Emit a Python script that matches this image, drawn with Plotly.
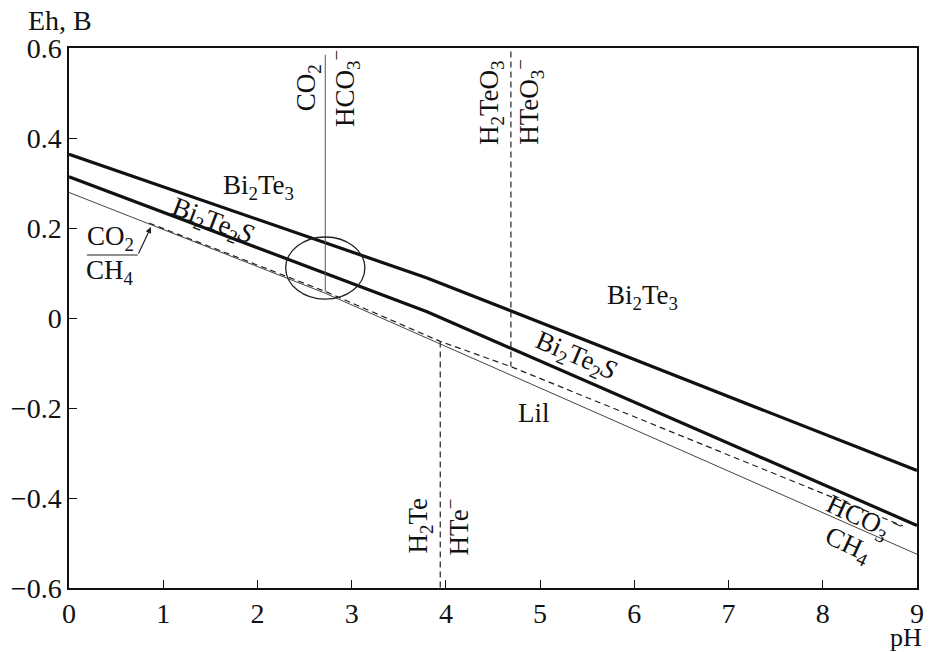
import plotly.graph_objects as go

# ---- data ----
upper_ph = [0, 3.8, 9]
upper_eh = [0.364, 0.089, -0.339]
lower_ph = [0, 3.8, 9]
lower_eh = [0.314, 0.014, -0.461]
ch4_ph = [0, 2.72, 9]
ch4_eh = [0.279, 0.055, -0.525]
te_ph = [0.85, 2.72, 3.94, 4.69, 8.85]
te_eh = [0.211, 0.059, -0.052, -0.108, -0.462]

co2_hco3_ph = 2.72
co2_hco3_eh = [0.585, 0.058]
h2teo3_ph = 4.69
h2teo3_eh = [0.592, -0.108]
h2te_ph = 3.94
h2te_eh = [-0.052, -0.6]

x_ticks = [0, 1, 2, 3, 4, 5, 6, 7, 8, 9]
y_ticks = [-0.6, -0.4, -0.2, 0, 0.2, 0.4, 0.6]
y_ticktext = ["−0.6", "−0.4", "−0.2", "0", "0.2", "0.4", "0.6"]

FONT = "Liberation Serif"
TICK_SIZE = 28
LABEL_SIZE = 27

fig = go.Figure()
fig.add_trace(go.Scatter(x=upper_ph, y=upper_eh, mode="lines",
                         line=dict(color="#111", width=3.2), showlegend=False))
fig.add_trace(go.Scatter(x=lower_ph, y=lower_eh, mode="lines",
                         line=dict(color="#111", width=3.2), showlegend=False))
fig.add_trace(go.Scatter(x=ch4_ph, y=ch4_eh, mode="lines",
                         line=dict(color="#444", width=1), showlegend=False))
fig.add_trace(go.Scatter(x=te_ph, y=te_eh, mode="lines",
                         line=dict(color="#222", width=1.2, dash="6px,4px"), showlegend=False))
fig.add_trace(go.Scatter(x=[co2_hco3_ph, co2_hco3_ph], y=co2_hco3_eh, mode="lines",
                         line=dict(color="#555", width=1), showlegend=False))
fig.add_trace(go.Scatter(x=[h2teo3_ph, h2teo3_ph], y=h2teo3_eh, mode="lines",
                         line=dict(color="#222", width=1.2, dash="6px,4px"), showlegend=False))
fig.add_trace(go.Scatter(x=[h2te_ph, h2te_ph], y=h2te_eh, mode="lines",
                         line=dict(color="#222", width=1.2, dash="6px,4px"), showlegend=False))

# ellipse around the CO2/HCO3- junction
fig.add_shape(type="circle", xref="x", yref="y",
              x0=2.72 - 0.42, x1=2.72 + 0.42, y0=0.111 - 0.069, y1=0.111 + 0.069,
              line=dict(color="#222", width=1.3))

# fraction bar of CO2/CH4 label
fig.add_shape(type="line", xref="x", yref="y", x0=0.19, x1=0.73, y0=0.14, y1=0.14,
              line=dict(color="#222", width=1.2))


def label(x, y, text, angle=0, size=LABEL_SIZE):
    fig.add_annotation(x=x, y=y, xref="x", yref="y", text=text, showarrow=False,
                       textangle=angle, font=dict(family=FONT, size=size, color="#111"))


label(2.01, 0.291, "Bi<sub>2</sub>Te<sub>3</sub>")
label(6.09, 0.047, "Bi<sub>2</sub>Te<sub>3</sub>")
label(1.52, 0.214, "Bi<sub>2</sub>Te<sub>2</sub><i>S</i>", angle=21)
label(5.38, -0.087, "Bi<sub>2</sub>Te<sub>2</sub><i>S</i>", angle=23)
label(4.93, -0.211, "Lil")
label(0.44, 0.178, "CO<sub>2</sub>")
label(0.44, 0.103, "CH<sub>4</sub>")
label(2.54, 0.511, "CO<sub>2</sub>", angle=-90)
label(2.93, 0.509, "HCO<sub>3</sub><sup>−</sup>", angle=-90)
label(4.48, 0.478, "H<sub>2</sub>TeO<sub>3</sub>", angle=-90)
label(4.88, 0.480, "HTeO<sub>3</sub><sup>−</sup>", angle=-90)
label(3.73, -0.46, "H<sub>2</sub>Te", angle=-90)
label(4.12, -0.465, "HTe<sup>−</sup>", angle=-90)
label(8.43, -0.444, "HCO<sub>3</sub><sup>−</sup>", angle=25)
label(8.27, -0.507, "CH<sub>4</sub>", angle=25)

# arrow from fraction bar to the CO2/CH4 line
fig.add_annotation(x=0.87, y=0.202, ax=0.73, ay=0.14, xref="x", yref="y",
                   axref="x", ayref="y", text="", showarrow=True,
                   arrowhead=2, arrowsize=1, arrowwidth=1.2, arrowcolor="#222")

# axis titles
fig.add_annotation(x=0, y=1.0, xref="paper", yref="paper", xanchor="center", yanchor="bottom",
                   yshift=10, xshift=-9, text="Eh, B", showarrow=False,
                   font=dict(family=FONT, size=TICK_SIZE, color="#111"))
fig.add_annotation(x=1.0, y=0.0, xref="paper", yref="paper", xanchor="right", yanchor="top",
                   yshift=-34, xshift=6, borderpad=0, text="pH", showarrow=False,
                   font=dict(family=FONT, size=26, color="#111"))

fig.update_layout(
    width=933, height=652,
    margin=dict(l=69, r=9, t=48, b=64),
    paper_bgcolor="white", plot_bgcolor="white",
    font=dict(family=FONT, size=TICK_SIZE, color="#111"),
    xaxis=dict(range=[0, 9], tickvals=x_ticks, ticks="inside", ticklen=8, tickwidth=1.3,
               tickcolor="#111", showline=True, linecolor="#111", linewidth=1.5, mirror=True,
               showgrid=False, zeroline=False,
               tickfont=dict(family=FONT, size=TICK_SIZE)),
    yaxis=dict(range=[-0.6, 0.6], tickvals=y_ticks, ticktext=y_ticktext,
               ticks="inside", ticklen=8, tickwidth=1.3,
               tickcolor="#111", showline=True, linecolor="#111", linewidth=1.5, mirror=True,
               showgrid=False, zeroline=False, tickfont=dict(family=FONT, size=TICK_SIZE)),
)

fig.write_html("out.html")
